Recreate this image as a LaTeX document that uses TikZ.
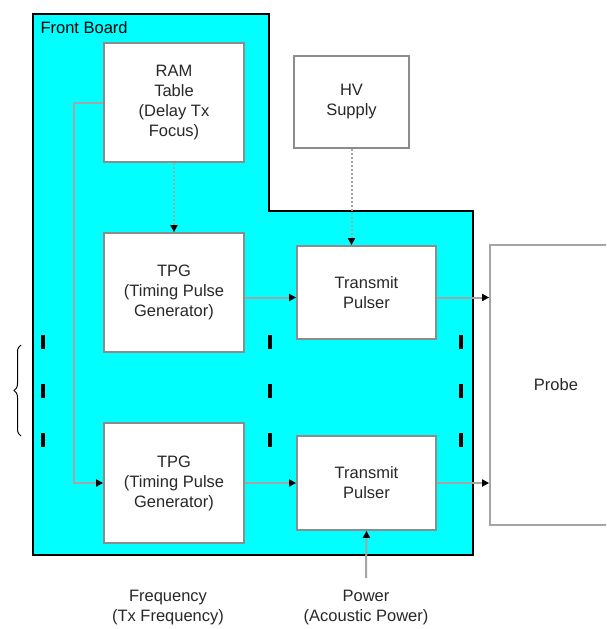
\documentclass[tikz,border=0pt]{standalone}
\usepackage{fontspec}
\setmainfont{Liberation Sans}
\usepackage{xcolor}
\usetikzlibrary{arrows.meta,decorations.pathreplacing}
\definecolor{boardcyan}{RGB}{0,255,255}
\definecolor{linegray}{RGB}{140,140,140}
\definecolor{wiregray}{RGB}{165,165,165}
\definecolor{txtgray}{RGB}{40,40,40}

\begin{document}
\begin{tikzpicture}[x=1pt, y=-1pt,
  every node/.style={font=\fontsize{16.5}{20}\selectfont, text=txtgray},
  blk/.style={draw=linegray, line width=1.8pt, fill=white, align=center, inner sep=0pt},
  arr/.style={color=wiregray, line width=2pt, -{Triangle[length=7pt,width=7pt,color=black,fill=black]}},
  dotarr/.style={arr, dash pattern=on 2pt off 2pt},
  tickmark/.style={line width=3.5pt, black}]
\clip (0,0) rectangle (606,629);
\fill[white] (0,0) rectangle (606,629);
% board outline
\draw[fill=boardcyan, line width=1.5pt] (33,14) -- (269,14) -- (269,211) -- (473,211)
  -- (473,555) -- (33,555) -- cycle;
\node[anchor=west, text=black] (board) at (37,28) {Front Board};
% blocks
\node[blk, minimum width=140pt, minimum height=119pt] (ram) at (174,102.5) {RAM\\ Table\\ (Delay Tx\\ Focus)};
\node[blk, minimum width=115pt, minimum height=92pt] (hv) at (351.5,102) {HV\\ Supply};
\node[blk, minimum width=140pt, minimum height=119pt] (tpg1) at (174,292.5) {TPG\\ (Timing Pulse\\ Generator)};
\node[blk, minimum width=139pt, minimum height=93pt] (tp1) at (366.5,292.5) {Transmit\\ Pulser};
\node[blk, minimum width=140pt, minimum height=120pt] (tpg2) at (174,483) {TPG\\ (Timing Pulse\\ Generator)};
\node[blk, minimum width=139pt, minimum height=94pt] (tp2) at (366.5,483) {Transmit\\ Pulser};
\node[blk, draw=wiregray, minimum width=132pt, minimum height=280pt] (probe) at (556,385) {Probe};
% labels below
\node[align=center] (freq) at (168,608) {Frequency\\ (Tx Frequency)};
\node[align=center] (pow) at (366,608) {Power\\ (Acoustic Power)};
% connectors
\draw[dotarr] (ram.south) -- (tpg1.north);
\draw[dotarr] (hv.south) -- (hv.south |- tp1.north);
\draw[arr] ([yshift=-5pt]tpg1.east) -- ([yshift=-5pt]tp1.west);
\draw[arr] ([yshift=-5pt]tp1.east) -- ([yshift=-5pt]tp1.east -| probe.west);
\draw[arr] (tpg2.east) -- (tp2.west);
\draw[arr] (tp2.east) -- (tp2.east -| probe.west);
\draw[arr] (ram.west) -- ++(-29,0) |- (tpg2.west);
\draw[arr] ([yshift=9pt]pow.north) -- (tp2.south);
% repeated channels
\foreach \x in {43,270,461}
  \foreach \y in {342,391,440}
    \draw[tickmark] (\x,\y-7) -- (\x,\y+7);
\draw[decorate, decoration={brace, amplitude=7pt}, line width=1pt]
  (21,436) -- (21,345);
\end{tikzpicture}
\end{document}
